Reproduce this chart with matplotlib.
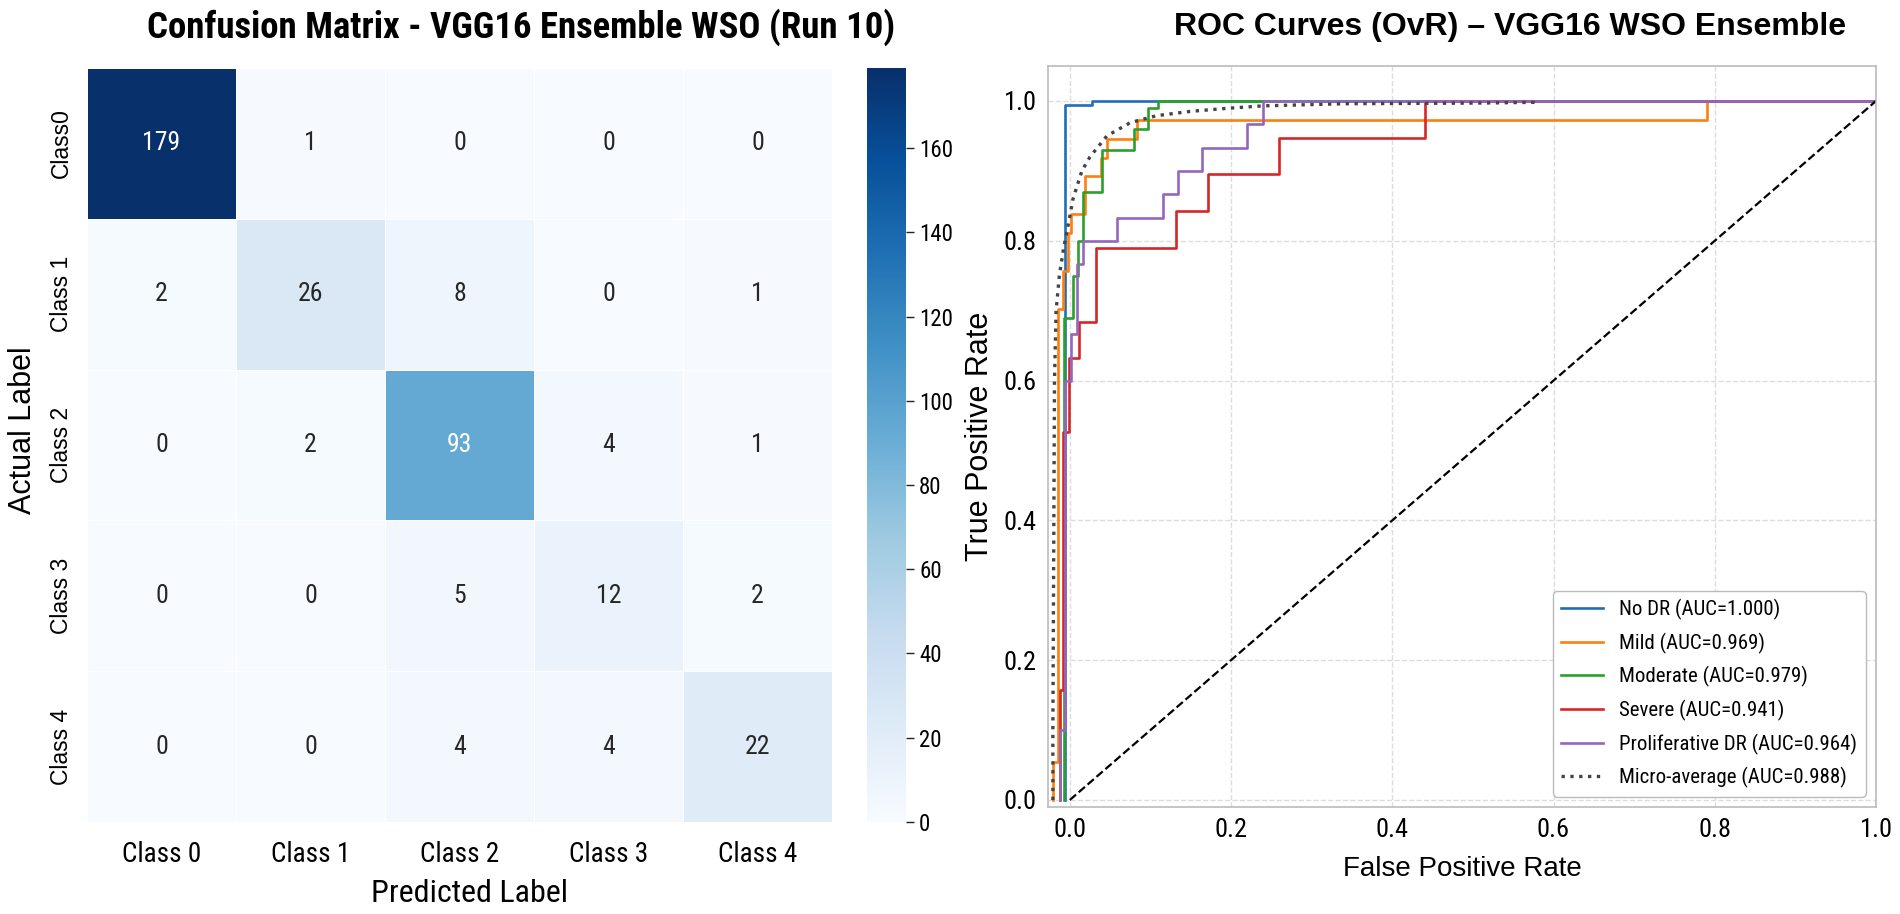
import numpy as np
import matplotlib
matplotlib.use('Agg')
import matplotlib.pyplot as plt
import seaborn as sns

NARROW = ['Roboto Condensed', 'Liberation Sans', 'DejaVu Sans']
REG = ['Liberation Sans', 'DejaVu Sans']
plt.rcParams['font.family'] = NARROW

# confusion matrix (rows = actual, cols = predicted)
row_labels = ['Class0', 'Class 1', 'Class 2', 'Class 3', 'Class 4']
col_labels = ['Class 0', 'Class 1', 'Class 2', 'Class 3', 'Class 4']
cm = np.array([
    [179, 1, 0, 0, 0],
    [2, 26, 8, 0, 1],
    [0, 2, 93, 4, 1],
    [0, 0, 5, 12, 2],
    [0, 0, 4, 4, 22],
])

# ROC curves, corner points
class_names = ['No DR', 'Mild', 'Moderate', 'Severe', 'Proliferative DR']
class_auc = [1.000, 0.969, 0.979, 0.941, 0.964]
class_colors = ['#1f6fb8', '#ff7f0e', '#2ca02c', '#d62728', '#9467bd']

fpr_nodr = [-0.006, -0.006, 0.027, 0.027, 1.0]
tpr_nodr = [0.0, 0.994, 0.994, 1.0, 1.0]

fpr_mild = [-0.021, -0.021, -0.015, -0.015, -0.008, -0.008, -0.002, -0.002, 0.002, 0.002,
            0.019, 0.019, 0.039, 0.039, 0.046, 0.046, 0.083, 0.083, 0.79, 0.79, 1.0]
tpr_mild = [0.0, 0.054, 0.054, 0.703, 0.703, 0.757, 0.757, 0.811, 0.811, 0.838,
            0.838, 0.892, 0.892, 0.919, 0.919, 0.946, 0.946, 0.973, 0.973, 1.0, 1.0]

fpr_mod = [-0.007, -0.007, 0.004, 0.004, 0.01, 0.01, 0.016, 0.016, 0.04, 0.04,
           0.08, 0.08, 0.097, 0.097, 0.11, 0.11, 1.0]
tpr_mod = [0.0, 0.69, 0.69, 0.75, 0.75, 0.80, 0.80, 0.87, 0.87, 0.93,
           0.93, 0.96, 0.96, 0.99, 0.99, 1.0, 1.0]

fpr_sev = [-0.012, -0.012, -0.009, -0.009, -0.001, -0.001, 0.012, 0.012, 0.032, 0.032,
           0.132, 0.132, 0.172, 0.172, 0.26, 0.26, 0.44, 0.44, 1.0]
tpr_sev = [0.0, 0.158, 0.158, 0.526, 0.526, 0.632, 0.632, 0.684, 0.684, 0.789,
           0.789, 0.842, 0.842, 0.895, 0.895, 0.947, 0.947, 1.0, 1.0]

fpr_pro = [-0.012, -0.012, -0.006, -0.006, 0.002, 0.002, 0.009, 0.009, 0.016, 0.016,
           0.058, 0.058, 0.115, 0.115, 0.134, 0.134, 0.164, 0.164, 0.22, 0.22, 0.24, 0.24, 1.0]
tpr_pro = [0.0, 0.1, 0.1, 0.6, 0.6, 0.667, 0.667, 0.767, 0.767, 0.8,
           0.8, 0.833, 0.833, 0.867, 0.867, 0.9, 0.9, 0.933, 0.933, 0.967, 0.967, 1.0, 1.0]

class_fpr = [fpr_nodr, fpr_mild, fpr_mod, fpr_sev, fpr_pro]
class_tpr = [tpr_nodr, tpr_mild, tpr_mod, tpr_sev, tpr_pro]

fpr_micro = [-0.021, -0.021, -0.019, -0.017, -0.013, -0.008, -0.002, 0.004, 0.015, 0.025,
             0.046, 0.075, 0.108, 0.149, 0.19, 0.24, 0.34, 0.51, 0.575, 0.575]
tpr_micro = [0.0, 0.1, 0.6, 0.70, 0.75, 0.787, 0.823, 0.86, 0.90, 0.92,
             0.95, 0.969, 0.979, 0.985, 0.989, 0.993, 0.996, 0.997, 0.998, 1.0]
micro_auc = 0.988

fig = plt.figure(figsize=(19, 9.14), dpi=100)
fig.patch.set_facecolor('white')

# ---- confusion matrix ----
ax1 = fig.add_axes([0.0458, 0.1007, 0.3921, 0.8249])
cax = fig.add_axes([0.4563, 0.1007, 0.0205, 0.8249])
sns.heatmap(cm, annot=True, fmt='d', cmap='Blues', linewidths=0.6, linecolor='white',
            xticklabels=col_labels, yticklabels=row_labels, ax=ax1, cbar_ax=cax,
            annot_kws={'fontsize': 18.5})
fig.text(0.2742, 0.9705, 'Confusion Matrix - VGG16 Ensemble WSO (Run 10)', fontsize=26.5,
         fontweight='bold', ha='center', va='center')
ax1.set_xlabel('Predicted Label', fontsize=23)
ax1.set_ylabel('Actual Label', fontsize=22, family=REG)
ax1.xaxis.set_label_coords(0.514, -0.076)
ax1.yaxis.set_label_coords(-0.066, 0.52)
ax1.tick_params(length=0, labelsize=19.5, pad=14)
for lab in ax1.get_yticklabels():
    lab.set_family(REG)
    lab.set_fontsize(16.5)
    lab.set_rotation(90)
    lab.set_va('center')
ax1.tick_params(axis='y', pad=10)
cax.tick_params(labelsize=16.5, length=6, width=1, color='#222222')
cax.set_yticks([0, 20, 40, 60, 80, 100, 120, 140, 160])

# ---- ROC curves ----
ax2 = fig.add_axes([0.5516, 0.1171, 0.4358, 0.8107])
for fpr, tpr, name, auc, col in zip(class_fpr, class_tpr, class_names, class_auc, class_colors):
    ax2.plot(fpr, tpr, color=col, lw=1.9, label='{0} (AUC={1:.3f})'.format(name, auc))
ax2.plot(fpr_micro, tpr_micro, ':', color='#444444', lw=2.4,
         label='Micro-average (AUC={0:.3f})'.format(micro_auc))
ax2.plot([0, 1], [0, 1], 'k--', lw=1.6)
ax2.set_xlim(-0.027, 1.0)
ax2.set_ylim(-0.01, 1.05)
ax2.set_xticks([0, 0.2, 0.4, 0.6, 0.8, 1.0])
ax2.set_yticks([0, 0.2, 0.4, 0.6, 0.8, 1.0])
ax2.grid(True, ls='--', color='#dddddd', lw=1)
ax2.set_axisbelow(True)
for sp in ax2.spines.values():
    sp.set_color('#bbbbbb')
    sp.set_linewidth(1.2)
ax2.tick_params(length=0, labelsize=19, pad=8)
fig.text(0.7948, 0.9705, 'ROC Curves (OvR) \u2013 VGG16 WSO Ensemble', fontsize=23,
         fontweight='bold', family=REG, ha='center', va='center')
ax2.set_xlabel('False Positive Rate', fontsize=20, family=REG, labelpad=10)
ax2.set_ylabel('True Positive Rate', fontsize=22, family=REG, labelpad=6)
leg = ax2.legend(loc='lower right', fontsize=15, labelspacing=0.6,
                 framealpha=1, edgecolor='#bbbbbb', fancybox=True)

fig.savefig('out.png', dpi=100, facecolor='white')
